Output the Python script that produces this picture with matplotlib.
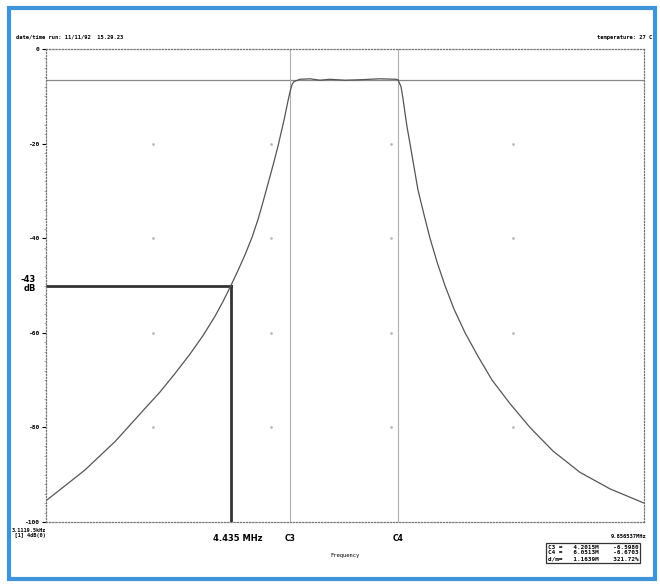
import matplotlib
matplotlib.use("Agg")
import matplotlib.pyplot as plt
from matplotlib.patches import Rectangle
from matplotlib.ticker import MultipleLocator

# ── Data ──────────────────────────────────────────────────────────────
f_start, f_stop = 3.112, 7.390          # MHz, plot edges
c3_freq, c4_freq = 4.858, 5.630         # cursor positions
marker_freq = 4.435                     # -43 dB point
marker_db = -50.0
ref_db = -6.6                           # passband reference line

freq_mhz = [3.112, 3.284, 3.391, 3.498, 3.606, 3.713, 3.820, 3.928,
            4.035, 4.142, 4.235, 4.321, 4.378, 4.435, 4.486, 4.536,
            4.586, 4.629, 4.664, 4.700, 4.736, 4.772, 4.793, 4.815,
            4.829, 4.843, 4.858, 4.872, 4.886,
            4.929, 5.001, 5.072, 5.144, 5.251, 5.358, 5.501, 5.616,
            5.630, 5.652, 5.666, 5.680, 5.695, 5.716, 5.745, 5.773,
            5.816, 5.859, 5.909, 5.966, 6.031, 6.110, 6.203, 6.303,
            6.432, 6.574, 6.739, 6.932, 7.147, 7.390]
gain_db = [-95.5, -91.5, -89.0, -86.0, -83.0, -79.5, -76.0, -72.5,
           -68.6, -64.5, -60.6, -56.5, -53.4, -50.0, -46.8, -43.5,
           -39.8, -36.0, -32.4, -28.5, -24.6, -20.5, -17.8, -15.0,
           -13.0, -11.0, -9.0, -7.5, -6.9,
           -6.4, -6.3, -6.6, -6.4, -6.6, -6.5, -6.3, -6.4,
           -6.5, -8.0, -10.5, -13.5, -16.5, -20.0, -25.0, -29.8,
           -35.0, -40.0, -45.0, -50.0, -55.0, -60.0, -65.0, -70.0,
           -75.0, -80.0, -85.0, -89.5, -93.0, -96.0]

y_ticks = [0, -20, -40, -60, -80, -100]
grid_x = [3.88, 4.72, 5.58, 6.45]

box_lines = ["C3 =   4.2015M    -6.5980",
             "C4 =   6.0513M    -6.6703",
             "d/m=   1.1639M    321.72%"]

mono = "DejaVu Sans Mono"

# ── Figure ────────────────────────────────────────────────────────────
fig = plt.figure(figsize=(6.6, 5.85), dpi=100)
fig.patch.set_facecolor("white")

# blue scan frame
fig.add_artist(Rectangle((9 / 660, 6 / 585), 646 / 660, 571 / 585,
                         transform=fig.transFigure, fill=False,
                         edgecolor="#3f93d9", linewidth=3))

ax = fig.add_axes([46 / 660, 1 - 522 / 585, 598 / 660, 473 / 585])
ax.set_xlim(f_start, f_stop)
ax.set_ylim(-100, 0)

for s in ax.spines.values():
    s.set_linestyle((0, (1, 1.5)))
    s.set_color("#777777")
    s.set_linewidth(0.9)

ax.set_yticks(y_ticks)
ax.set_yticklabels([str(v) for v in y_ticks], fontsize=4.5,
                   fontweight="bold", family=mono)
ax.yaxis.set_minor_locator(MultipleLocator(2))
ax.tick_params(axis="y", which="major", length=3, width=0.8, pad=2)
ax.tick_params(axis="y", which="minor", length=1.5, width=0.5, color="#888888")
ax.set_xticks([])

# faint grid dots
for gx in grid_x:
    for gy in y_ticks[1:-1]:
        ax.plot(gx, gy, marker=".", color="#bbbbbb", markersize=2)

# reference and cursor lines
ax.axhline(ref_db, color="#888888", lw=0.9)
ax.axvline(c3_freq, color="#b0b0b0", lw=0.8)
ax.axvline(c4_freq, color="#b0b0b0", lw=0.8)

# -43 dB marker lines
ax.plot([f_start, marker_freq], [marker_db, marker_db], color="#333333", lw=2)
ax.plot([marker_freq, marker_freq], [marker_db, -100], color="#333333", lw=2)

# response curve
ax.plot(freq_mhz, gain_db, color="#555555", lw=0.9)

# ── Texts ─────────────────────────────────────────────────────────────
fig.text(16 / 660, 1 - 37 / 585, "date/time run: 11/11/92  15.29.23",
         fontsize=4, family=mono, fontweight="bold", va="center")
fig.text(652 / 660, 1 - 38 / 585, "temperature: 27 C", fontsize=4,
         family=mono, fontweight="bold", va="center", ha="right")

ax.text(f_start - 0.07, marker_db + 0.3, "-43\ndB", fontsize=6,
        fontweight="bold", ha="right", va="center", linespacing=1.0)

ax.text(marker_freq + 0.05, -102.5, "4.435 MHz", fontsize=6,
        fontweight="bold", ha="center", va="top")
ax.text(c3_freq, -102.5, "C3", fontsize=5.5, fontweight="bold",
        ha="center", va="top")
ax.text(c4_freq, -102.5, "C4", fontsize=5.5, fontweight="bold",
        ha="center", va="top")
ax.text(5.252, -106.5, "Frequency", fontsize=4, family=mono,
        ha="center", va="top")
ax.text(f_start, -101.2, "3.1119.5kHz\n    [1] 4dB(0)", fontsize=3.8,
        family=mono, fontweight="bold", ha="right", va="top",
        linespacing=1.1)
ax.text(f_stop + 0.02, -102.5, "9.856537MHz", fontsize=4, family=mono,
        fontweight="bold", ha="right", va="top")

fig.text(593 / 660, 1 - 553 / 585, "\n".join(box_lines), fontsize=4.3,
         family=mono, fontweight="bold", ha="center", va="center",
         linespacing=1.2,
         bbox=dict(boxstyle="square,pad=0.3", fc="white", ec="#333333",
                   lw=0.9))

fig.savefig("out.png", dpi=100)
